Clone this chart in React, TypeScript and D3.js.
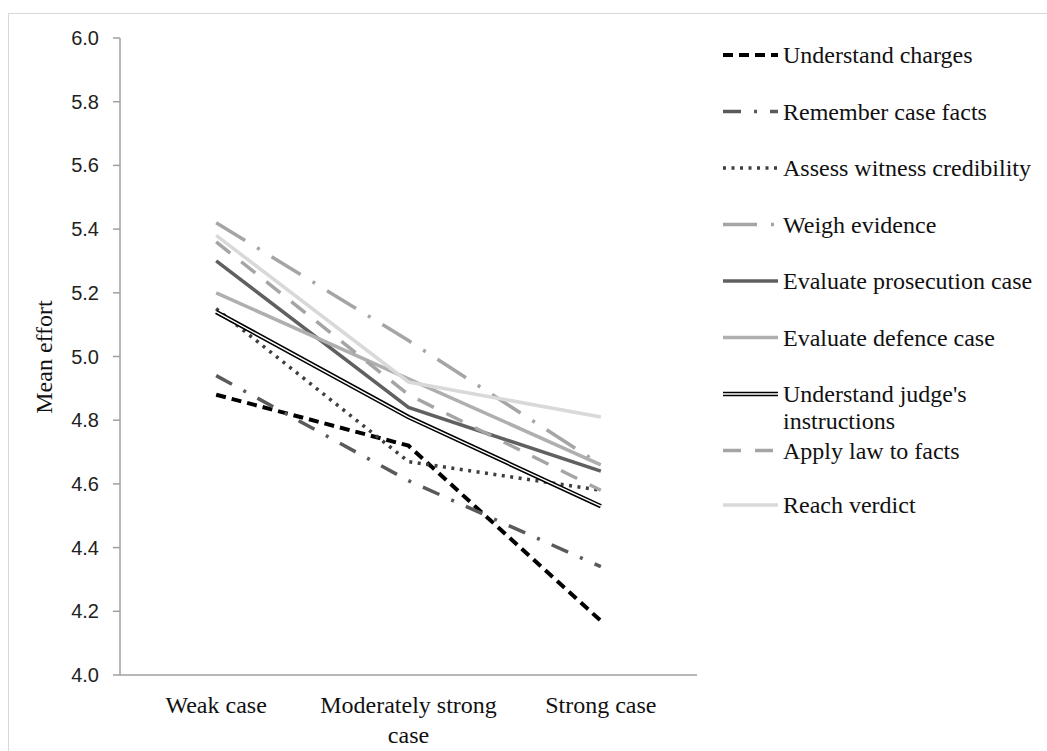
import * as d3 from "d3";
import React from "react";

const categories = ["Weak case", "Moderately strong case", "Strong case"];
const categoryLines = [["Weak case"], ["Moderately strong", "case"], ["Strong case"]];
const yTicks = [4.0, 4.2, 4.4, 4.6, 4.8, 5.0, 5.2, 5.4, 5.6, 5.8, 6.0];

const seriesNames = [
  "Understand charges",
  "Remember case facts",
  "Assess witness credibility",
  "Weigh evidence",
  "Evaluate prosecution case",
  "Evaluate defence case",
  "Understand judge's instructions",
  "Apply law to facts",
  "Reach verdict",
];
const legendLabels = [
  ["Understand charges"],
  ["Remember case facts"],
  ["Assess witness credibility"],
  ["Weigh evidence"],
  ["Evaluate prosecution case"],
  ["Evaluate defence case"],
  ["Understand judge's", "instructions"],
  ["Apply law to facts"],
  ["Reach verdict"],
];

const understandCharges = [4.88, 4.72, 4.17];
const rememberFacts = [4.94, 4.61, 4.34];
const assessWitness = [5.15, 4.67, 4.58];
const weighEvidence = [5.42, 5.05, 4.66];
const evalProsecution = [5.3, 4.84, 4.64];
const evalDefence = [5.2, 4.93, 4.66];
const judgeInstructions = [5.14, 4.81, 4.53];
const applyLaw = [5.36, 4.88, 4.58];
const reachVerdict = [5.38, 4.92, 4.81];

const seriesValues = [
  understandCharges,
  rememberFacts,
  assessWitness,
  weighEvidence,
  evalProsecution,
  evalDefence,
  judgeInstructions,
  applyLaw,
  reachVerdict,
];

// stroke styles per series
const styles = [
  { color: "#000000", width: 4, dash: "10,6" },
  { color: "#5a5a5a", width: 3.5, dash: "18,13,3,13" },
  { color: "#3f3f3f", width: 3.5, dash: "3,5.5" },
  { color: "#a5a5a5", width: 3.5, dash: "34,14,3,14" },
  { color: "#606060", width: 3.5, dash: null },
  { color: "#afafaf", width: 3.5, dash: null },
  { color: "#000000", width: 4.5, dash: null, double: true },
  { color: "#a5a5a5", width: 3.5, dash: "18,14" },
  { color: "#d9d9d9", width: 3.5, dash: null },
];

const SERIF = "Liberation Serif";
const SANS = "Liberation Sans";

export default function App() {
  const width = 1047;
  const height = 751;
  const x0 = 120;
  const x1 = 697;
  const yTop = 38;
  const yBottom = 675;

  const x = d3.scaleBand<string>().domain(categories).range([x0, x1]);
  const y = d3.scaleLinear().domain([4, 6]).range([yBottom, yTop]);
  const cx = (c: string) => (x(c) as number) + x.bandwidth() / 2;

  const line = d3
    .line<number>()
    .x((_d, i) => cx(categories[i]))
    .y((d) => y(d));

  const legendX = 723;
  const legendLen = 55;
  const legendY0 = 55;
  const legendStep = 56.5;

  const drawPath = (i: number, d: string, key: string) => {
    const s = styles[i];
    if (s.double) {
      return (
        <g key={key}>
          <path d={d} fill="none" stroke={s.color} strokeWidth={s.width} />
          <path d={d} fill="none" stroke="#ffffff" strokeWidth={1.4} />
        </g>
      );
    }
    return (
      <path
        key={key}
        d={d}
        fill="none"
        stroke={s.color}
        strokeWidth={s.width}
        strokeDasharray={s.dash || undefined}
      />
    );
  };

  return (
    <svg
      width={width}
      height={height}
      style={{ position: "absolute", left: 0, top: 0, background: "#fff" }}
    >
      <rect x={8.5} y={13.5} width={1050} height={760} fill="none" stroke="#d9d9d9" />

      {/* y axis */}
      <line x1={x0} x2={x0} y1={yTop} y2={yBottom} stroke="#a0a0a0" strokeWidth={1.5} />
      {yTicks.map((t) => (
        <g key={t}>
          <line x1={x0 - 7} x2={x0} y1={y(t)} y2={y(t)} stroke="#a0a0a0" strokeWidth={1.5} />
          <text x={99} y={y(t) + 7} textAnchor="end" fontSize={20} fill="#222" fontFamily={SANS}>
            {t.toFixed(1)}
          </text>
        </g>
      ))}
      <text
        transform={`translate(52,357) rotate(-90)`}
        textAnchor="middle"
        fontSize={24}
        fill="#111"
        fontFamily={SERIF}
      >
        Mean effort
      </text>

      {/* x axis */}
      <line x1={x0} x2={x1} y1={yBottom} y2={yBottom} stroke="#a0a0a0" strokeWidth={1.5} />
      {categories.map((c, i) => (
        <text key={c} textAnchor="middle" fontSize={24} fill="#111" fontFamily={SERIF}>
          {categoryLines[i].map((l, j) => (
            <tspan key={j} x={cx(c)} y={713 + j * 30}>
              {l}
            </tspan>
          ))}
        </text>
      ))}

      {/* series lines */}
      {seriesValues.map((vals, i) => drawPath(i, line(vals) as string, "s" + i))}

      {/* legend */}
      {seriesNames.map((name, i) => {
        const ly = legendY0 + i * legendStep + (i === 8 ? -2 : 0);
        return (
          <g key={name}>
            {drawPath(i, `M${legendX},${ly}L${legendX + legendLen},${ly}`, "l" + i)}
            <text fontSize={24} fill="#111" fontFamily={SERIF}>
              {legendLabels[i].map((l, j) => (
                <tspan key={j} x={783} y={ly + 8 + j * 27}>
                  {l}
                </tspan>
              ))}
            </text>
          </g>
        );
      })}
    </svg>
  );
}
